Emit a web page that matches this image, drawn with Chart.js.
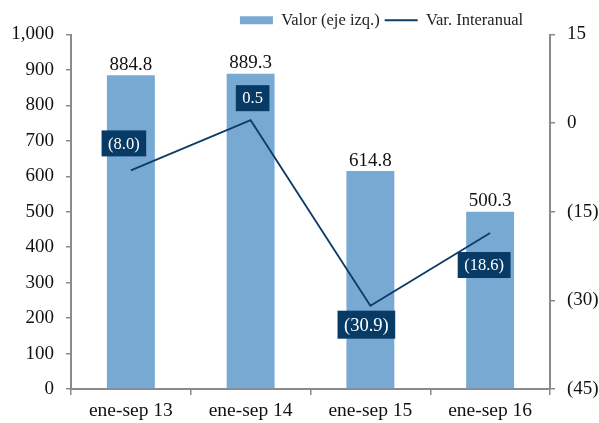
<!DOCTYPE html>
<html><head><meta charset="utf-8">
<script src="https://cdn.jsdelivr.net/npm/chart.js@4"></script>
<style>html,body{margin:0;padding:0;background:#fff}#wrap{width:599px;height:423px}</style>
</head><body><div id="wrap"><canvas id="c" width="599" height="423"></canvas></div>
<script>
const categories = ['ene-sep 13', 'ene-sep 14', 'ene-sep 15', 'ene-sep 16'];
const valores = [884.8, 889.3, 614.8, 500.3];
const variacion = [-8.0, 0.5, -30.9, -18.6];
const seriesNames = ['Valor (eje izq.)', 'Var. Interanual'];

const FONT = '"Liberation Serif", "Times New Roman", serif';
const AXIS_GREY = '#8a8a8a';
const fmtVar = v => v < 0 ? '(' + Math.abs(v).toFixed(1) + ')' : v.toFixed(1);
const fmtRight = v => v < 0 ? '(' + Math.abs(v) + ')' : String(v);

// label box placement relative to each line point (style only)
const boxStyle = [
  {dx: -7, dy: -27, size: 16.5},
  {dx: 2, dy: -22, size: 16.5},
  {dx: -4, dy: 19, size: 18.5},
  {dx: -6, dy: 32, size: 16.5}
];

const labelPlugin = {
  id: 'labels',
  afterLayout(chart) {
    chart.legend.left += 82; chart.legend.right += 82; chart.legend.top += 4;
  },
  afterDatasetsDraw(chart) {
    const ctx = chart.ctx;
    ctx.save();
    const barMeta = chart.getDatasetMeta(1);
    ctx.font = '19px ' + FONT;
    ctx.fillStyle = '#111';
    ctx.textAlign = 'center';
    ctx.textBaseline = 'bottom';
    barMeta.data.forEach((el, i) => {
      ctx.fillText(valores[i].toFixed(1), el.x, el.y - 1);
    });
    const lineMeta = chart.getDatasetMeta(0);
    lineMeta.data.forEach((pt, i) => {
      const st = boxStyle[i];
      ctx.font = st.size + 'px ' + FONT;
      const txt = fmtVar(variacion[i]);
      const w = ctx.measureText(txt).width + 13;
      const h = Math.round(st.size) + 9;
      const cx = pt.x + st.dx, cy = pt.y + st.dy;
      ctx.fillStyle = '#083a66';
      ctx.fillRect(cx - w / 2, cy - h / 2, w, h);
      ctx.fillStyle = '#ffffff';
      ctx.textBaseline = 'middle';
      ctx.fillText(txt, cx, cy + 1);
    });
    ctx.restore();
  }
};

new Chart(document.getElementById('c'), {
  type: 'bar',
  data: {
    labels: categories,
    datasets: [
      {
        type: 'line', label: seriesNames[1], data: variacion, yAxisID: 'y1',
        borderColor: '#0d3c66', backgroundColor: '#0d3c66', borderWidth: 1.8,
        pointRadius: 0, tension: 0, pointStyle: 'line'
      },
      {
        type: 'bar', label: seriesNames[0], data: valores, yAxisID: 'y',
        backgroundColor: '#78a9d3', borderWidth: 0,
        barPercentage: 0.4, categoryPercentage: 1.0, pointStyle: 'rect'
      }
    ]
  },
  options: {
    responsive: false,
    animation: false,
    layout: {padding: {top: 3, left: 0, right: 0, bottom: 0}},
    plugins: {
      tooltip: {enabled: false},
      legend: {
        position: 'top', align: 'center',
        labels: {
          usePointStyle: true, pointStyleWidth: 33, boxHeight: 8, padding: 5,
          color: '#222', font: {family: FONT, size: 16.5},
          sort: (a, b) => b.datasetIndex - a.datasetIndex
        }
      }
    },
    scales: {
      x: {
        grid: {display: true, drawOnChartArea: false, offset: true, tickLength: 6, color: AXIS_GREY, lineWidth: 1.5},
        border: {display: true, color: AXIS_GREY, width: 2},
        ticks: {color: '#111', font: {family: FONT, size: 19.5}, padding: 4, maxRotation: 0},
        afterFit: s => { s.height = 34; }
      },
      y: {
        position: 'left', min: 0, max: 1000,
        grid: {display: true, drawOnChartArea: false, tickLength: 5, color: AXIS_GREY, lineWidth: 1.5},
        border: {display: true, color: AXIS_GREY, width: 2},
        ticks: {stepSize: 100, color: '#111', font: {family: FONT, size: 19}, padding: 12,
          callback: v => v.toLocaleString('en-US')},
        afterFit: s => { s.width = 71; }
      },
      y1: {
        position: 'right', min: -45, max: 15,
        grid: {display: true, drawOnChartArea: false, tickLength: 5, color: AXIS_GREY, lineWidth: 1.5},
        border: {display: true, color: AXIS_GREY, width: 2},
        ticks: {stepSize: 15, color: '#111', font: {family: FONT, size: 19}, padding: 12,
          callback: v => fmtRight(v)},
        afterFit: s => { s.width = 49; }
      }
    }
  },
  plugins: [labelPlugin]
});
</script>
</body></html>
